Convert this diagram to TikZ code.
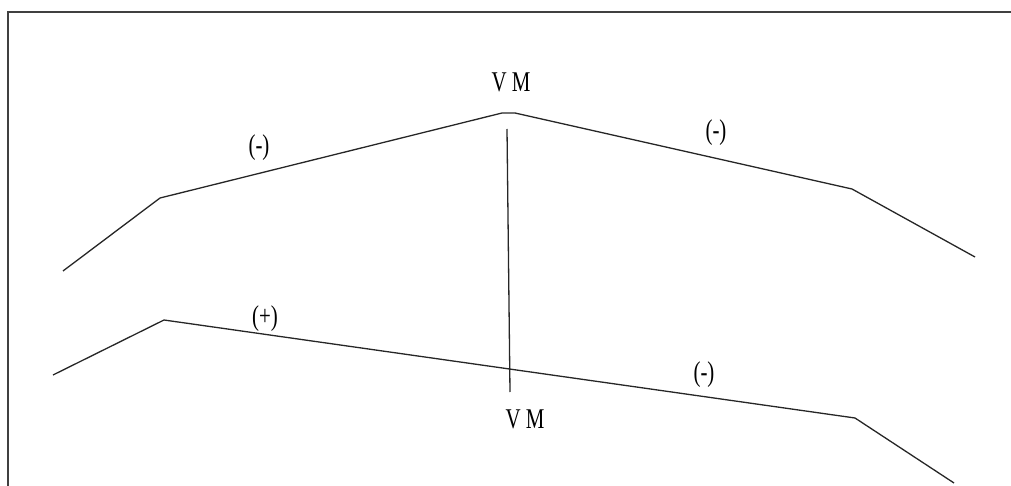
\documentclass[tikz,border=0pt]{standalone}
\usepackage{fontspec}
\setmainfont{Liberation Serif}
\begin{document}
\begin{tikzpicture}[x=1pt,y=-1pt,
  frame/.style={draw=black!75,line width=2.4pt},
  prof/.style={draw=black!85,line width=1.3pt,line join=round},
  lbl/.style={inner sep=0pt,font=\fontsize{22}{22}\selectfont}]
\useasboundingbox (0,0) rectangle (1011,486);
\clip (0,0) rectangle (1011,486);
% frame (only top and left visible)
\coordinate (f1) at (8,500);
\coordinate (f2) at (8,12);
\coordinate (f3) at (1030,12);
\draw[frame] (f1) -- (f2) -- (f3);
% upper profile
\coordinate (u1) at (63,271);
\coordinate (u2) at (160,198);
\coordinate (u3) at (502,113);
\coordinate (u4) at (515,113);
\coordinate (u5) at (852,189);
\coordinate (u6) at (975,257);
\draw[prof] (u1) -- (u2) -- (u3) -- (u4) -- (u5) -- (u6);
% lower profile
\coordinate (l1) at (53,375);
\coordinate (l2) at (164,320);
\coordinate (l3) at (855,418);
\coordinate (l4) at (954,483);
\draw[prof] (l1) -- (l2) -- (l3) -- (l4);
% vertical
\coordinate (v1) at (507,129);
\coordinate (v2) at (510,392);
\draw[prof] (v1) -- (v2);
% labels
\node[lbl] (vmt) at (511,82) {\scalebox{0.95}[1.3]{V M}};
\node[lbl] (vmb) at (525,419) {\scalebox{0.95}[1.3]{V M}};
\node[lbl] (a) at (259,148) {\scalebox{0.95}[1.3]{(-)}};
\node[lbl] (b) at (716,133) {\scalebox{0.95}[1.3]{(-)}};
\node[lbl] (c) at (265,319) {\scalebox{0.95}[1.3]{(+)}};
\node[lbl] (d) at (704,375) {\scalebox{0.95}[1.3]{(-)}};
\end{tikzpicture}
\end{document}
